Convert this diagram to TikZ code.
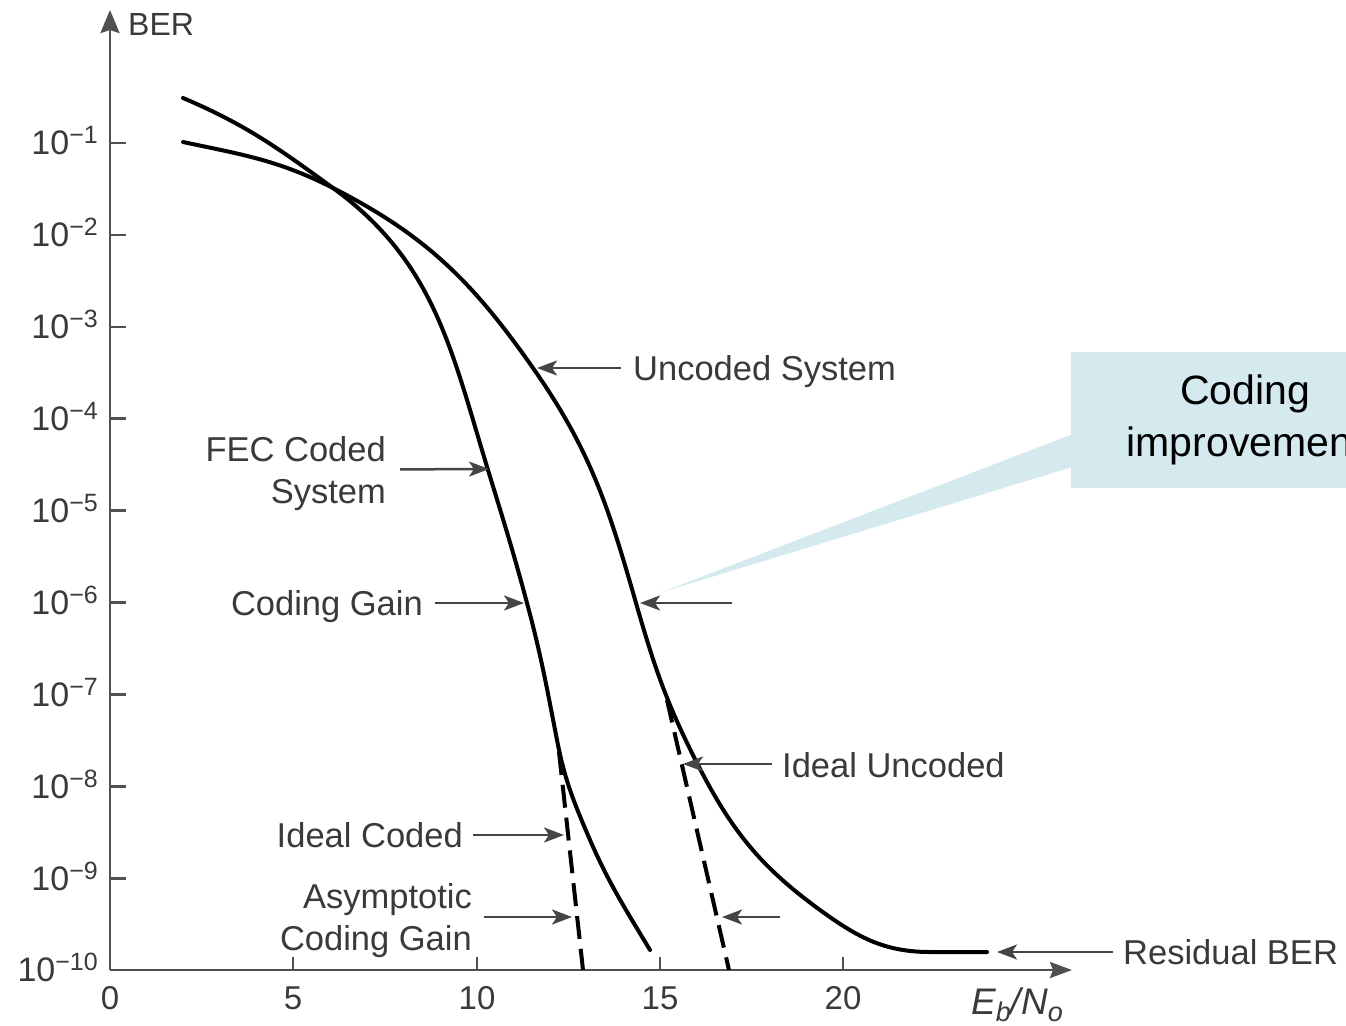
\documentclass[tikz,border=0pt]{standalone}
\usepackage{fontspec}
\setmainfont{Liberation Sans}
\usetikzlibrary{arrows.meta}
\definecolor{txt}{HTML}{3A3A3A}
\definecolor{axc}{HTML}{505050}
\definecolor{arc}{HTML}{454545}
\definecolor{callfill}{HTML}{D4EAEE}
\newcommand\pwten[1]{{\fontsize{34}{34}\selectfont 10}\raisebox{11pt}{\fontsize{25}{25}\selectfont −#1}}
\begin{document}
\begin{tikzpicture}[x=1pt,y=-1pt,
  lab/.style={font=\fontsize{34.5}{42}\selectfont, text=txt, inner sep=0pt, text height=24.7pt, text depth=0pt},
  mlab/.style={font=\fontsize{34.5}{42}\selectfont, text=txt, inner sep=0pt, align=right},
  ticklab/.style={font=\fontsize{33}{33}\selectfont, text=txt, inner sep=0pt, text height=23.6pt, text depth=0pt},
  ptr/.style={draw=arc, line width=2.5pt, -{Stealth[length=20pt,width=15pt,inset=5pt]}},
  curve/.style={line width=4pt, black, line cap=round, line join=round},
  dashcurve/.style={line width=4pt, black, dash pattern=on 23pt off 10pt},
  axis/.style={draw=axc, line width=2.6pt},
  tickmark/.style={draw=axc, line width=2.6pt},
]
\useasboundingbox (0,0) rectangle (1346,1025);
\fill[white] (0,0) rectangle (1346,1025);

% callout
\node[fill=callfill, minimum width=348pt, minimum height=136pt, inner sep=0pt, anchor=north west, align=center, font=\fontsize{41}{52}\selectfont, text=black] (callout) at (1071,352) {Coding\\improvement};
\coordinate (ctip) at (662,592);
\fill[callfill] (ctip) -- ([xshift=4pt,yshift=-13pt]callout.west) -- ([xshift=4pt,yshift=-46pt]callout.west) -- cycle;

% axes
\coordinate (O) at (110,970);
\coordinate (ytip) at (110,10);
\coordinate (xtip) at (1072,970);
\draw[axis, -{Stealth[length=23pt,width=19pt,inset=3pt]}] (O) -- (ytip);
\draw[axis, -{Stealth[length=22pt,width=16pt,inset=3pt]}] (O) -- (xtip);
\node[lab, font=\fontsize{32}{40}\selectfont, text height=23pt, anchor=west] (ber) at (128,24) {BER};

% y ticks
\foreach \i in {1,...,10}{
  \pgfmathsetmacro\yy{143+(\i-1)*91.9}
  \draw[tickmark] (110,\yy) -- (126,\yy);
  \node[ticklab, anchor=east] (yl\i) at (98,\yy) {\pwten{\i}};
}
% x ticks
\foreach \v/\xx in {5/293,10/477,15/660,20/843}{
  \draw[tickmark] (\xx,970) -- (\xx,957);
}
\foreach \v/\xx in {0/110,5/293,10/477,15/660,20/843}{
  \node[ticklab] (xl\v) at (\xx,998) {\v};
}
\node[font=\fontsize{37}{44}\selectfont\itshape, text=txt, inner sep=0pt, anchor=base west] (xlab) at (971,1014)
  {E\raisebox{-7pt}{\fontsize{27}{27}\selectfont b}/N\raisebox{-7pt}{\fontsize{27}{27}\selectfont o}};

% uncoded curve waypoints
\coordinate (uA) at (183,142);
\coordinate (uB) at (333,188);
\coordinate (uC) at (533,368);
\coordinate (uD) at (636,603);
\coordinate (uE) at (697,763);
\coordinate (uF) at (820,910);
\coordinate (uG) at (930,952);
\coordinate (uH) at (987,952);
\draw[curve] (uA) to[out=-12,in=153] (uB) to[out=-27,in=125] (uC) to[out=-55,in=106] (uD)
  to[out=-74,in=117] (uE) to[out=-63,in=144] (uF) to[out=-36,in=180] (uG) -- (uH);

% coded curve waypoints
\coordinate (cA) at (183,98);
\coordinate (cX) at (333,188);
\coordinate (cQ) at (488,470);
\coordinate (cR) at (527,603);
\coordinate (cS) at (557,740);
\coordinate (cT) at (587,833);
\coordinate (cU) at (650,950);
\draw[curve] (cA) to[out=-23,in=144] (cX) to[out=-36,in=107] (cQ) to[out=-73,in=105] (cR)
  to[out=-75,in=101] (cS) to[out=-79,in=113] (cT) to[out=-67,in=121] (cU);

% ideal (dashed) lines
\coordinate (dc1) at (559,752);
\coordinate (dc2) at (583,970);
\coordinate (du1) at (667,700);
\coordinate (du2) at (729,970);
\draw[dashcurve] (dc1) -- (dc2);
\draw[dashcurve] (du1) -- (du2);

% labels and pointers
\node[lab, anchor=west] (lUS) at (633,368) {Uncoded System};
\coordinate (tUS) at (537,368);
\draw[ptr] ([xshift=-12pt]lUS.west) -- (tUS);

\node[mlab, anchor=east] (lFEC) at (386,473.4) {FEC Coded\\System};
\coordinate (tFEC) at (489,469);
\draw[ptr] ([xshift=14pt,yshift=4pt]lFEC.east) -- (tFEC);

\node[lab, anchor=east] (lCG) at (423,603) {Coding Gain};
\coordinate (tCG) at (524,603);
\draw[ptr] ([xshift=12pt]lCG.east) -- (tCG);
\coordinate (sCGr) at (732,603);
\coordinate (tCGr) at (640,603);
\draw[ptr] (sCGr) -- (tCGr);

\node[lab, anchor=west] (lIU) at (782,765) {Ideal Uncoded};
\coordinate (tIU) at (683,764);
\draw[ptr] ([xshift=-10pt,yshift=1pt]lIU.west) -- (tIU);

\node[lab, anchor=east] (lIC) at (463,835) {Ideal Coded};
\coordinate (tIC) at (564,835);
\draw[ptr] ([xshift=10pt]lIC.east) -- (tIC);

\node[mlab, anchor=east] (lACG) at (472,921) {Asymptotic\\Coding Gain};
\coordinate (tACG) at (572,917);
\draw[ptr] ([xshift=12pt,yshift=4pt]lACG.east) -- (tACG);
\coordinate (sACGr) at (780,917);
\coordinate (tACGr) at (722,917);
\draw[ptr] (sACGr) -- (tACGr);

\node[lab, anchor=west] (lRB) at (1123,952) {Residual BER};
\coordinate (tRB) at (997,952);
\draw[ptr] ([xshift=-10pt]lRB.west) -- (tRB);
\end{tikzpicture}
\end{document}
